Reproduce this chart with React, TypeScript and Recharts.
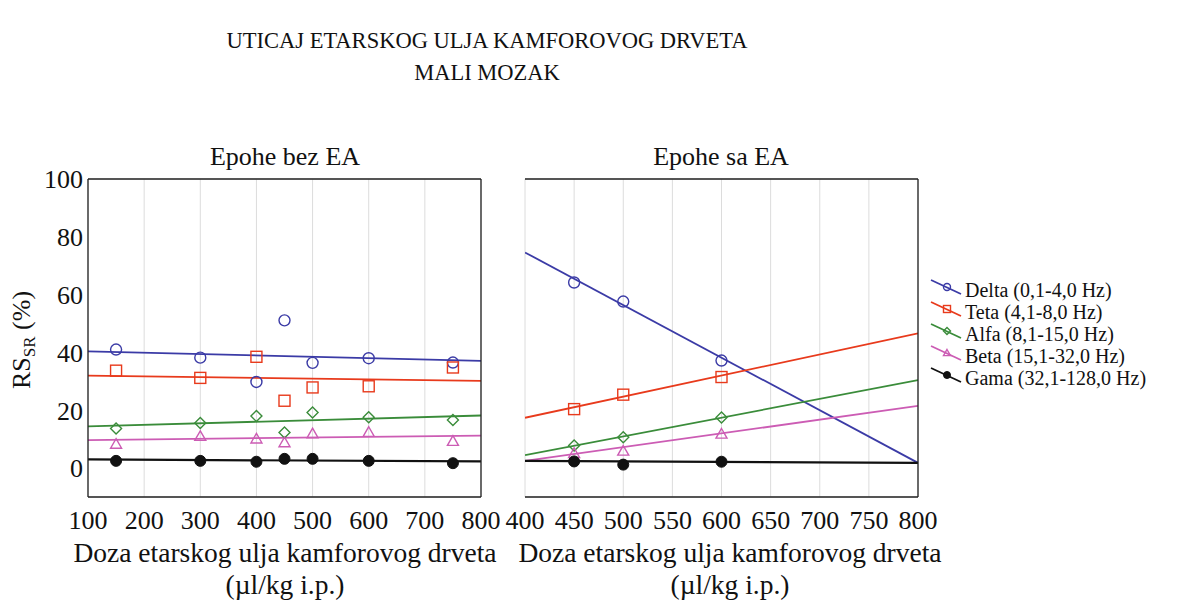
import { ComposedChart, Scatter, Line, XAxis, YAxis, CartesianGrid } from "recharts";

const FONT = "Liberation Serif, Times New Roman, serif";

// band names (legend)
const bandNames = [
  "Delta (0,1-4,0 Hz)",
  "Teta (4,1-8,0 Hz)",
  "Alfa (8,1-15,0 Hz)",
  "Beta (15,1-32,0 Hz)",
  "Gama (32,1-128,0 Hz)",
];
const bandColors = ["#3b3ba6", "#e83a1c", "#3a8c3a", "#cc5cb4", "#111111"];
const bandShapes = ["circle", "square", "diamond", "triangle", "dot"];

// Epohe bez EA
const leftDoses = [150, 300, 400, 450, 500, 600, 750];
const leftDelta = [41.0, 38.2, 29.8, 51.1, 36.4, 38.0, 36.5];
const leftTeta = [33.7, 31.2, 38.5, 23.3, 27.9, 28.3, 34.8];
const leftAlfa = [13.7, 15.6, 18.0, 12.3, 19.2, 17.6, 16.6];
const leftBeta = [8.3, 11.0, 10.1, 8.8, 11.9, 12.4, 9.3];
const leftGama = [2.5, 2.5, 2.2, 3.2, 3.2, 2.5, 1.7];
// fitted lines (value at both ends of the axis)
const leftFitX = [100, 800];
const leftFitDelta = [40.4, 37.1];
const leftFitTeta = [32.0, 30.2];
const leftFitAlfa = [14.4, 18.2];
const leftFitBeta = [9.7, 11.2];
const leftFitGama = [3.0, 2.3];

// Epohe sa EA
const rightDoses = [450, 500, 600];
const rightDelta = [64.2, 57.6, 37.2];
const rightTeta = [20.4, 25.4, 31.5];
const rightAlfa = [7.8, 10.7, 17.5];
const rightBeta = [5.1, 5.9, 11.8];
const rightGama = [2.3, 1.2, 2.2];
const rightFitX = [400, 800];
const rightFitDelta = [74.6, 1.8];
const rightFitTeta = [17.4, 46.6];
const rightFitAlfa = [4.5, 30.4];
const rightFitBeta = [2.5, 21.5];
const rightFitGama = [2.5, 1.8];

// axis ticks
const leftXTicks = [100, 200, 300, 400, 500, 600, 700, 800];
const rightXTicks = [400, 450, 500, 550, 600, 650, 700, 750, 800];
const leftMinorX = [100, 133.3, 166.7, 200, 233.3, 266.7, 300, 333.3, 366.7, 400, 433.3, 466.7, 500, 533.3, 566.7, 600, 633.3, 666.7, 700, 733.3, 766.7, 800];
const rightMinorX = [400, 420, 440, 460, 480, 500, 520, 540, 560, 580, 600, 620, 640, 660, 680, 700, 720, 740, 760, 780, 800];
const yLabelTicks = [0, 20, 40, 60, 80, 100];
const yGridTicks = [-10, 0, 10, 20, 30, 40, 50, 60, 70, 80, 90, 100];
const yMinorTicks = [-10, -5, 0, 5, 10, 15, 20, 25, 30, 35, 40, 45, 50, 55, 60, 65, 70, 75, 80, 85, 90, 95, 100];

const leftValues = [leftDelta, leftTeta, leftAlfa, leftBeta, leftGama];
const leftFits = [leftFitDelta, leftFitTeta, leftFitAlfa, leftFitBeta, leftFitGama];
const rightValues = [rightDelta, rightTeta, rightAlfa, rightBeta, rightGama];
const rightFits = [rightFitDelta, rightFitTeta, rightFitAlfa, rightFitBeta, rightFitGama];

function Marker({ kind, cx, cy, color, r = 5.5 }: any) {
  if (cx == null || cy == null) return null;
  const sw = 1.4;
  switch (kind) {
    case "circle":
      return <circle cx={cx} cy={cy} r={r} fill="none" stroke={color} strokeWidth={sw} />;
    case "square":
      return <rect x={cx - r} y={cy - r} width={2 * r} height={2 * r} fill="none" stroke={color} strokeWidth={sw} />;
    case "diamond":
      return (
        <polygon
          points={`${cx},${cy - r} ${cx + r},${cy} ${cx},${cy + r} ${cx - r},${cy}`}
          fill="none"
          stroke={color}
          strokeWidth={sw}
        />
      );
    case "triangle":
      return (
        <polygon
          points={`${cx},${cy - r} ${cx + r},${cy + r * 0.75} ${cx - r},${cy + r * 0.75}`}
          fill="none"
          stroke={color}
          strokeWidth={sw}
        />
      );
    default:
      return <circle cx={cx} cy={cy} r={r} fill={color} stroke={color} />;
  }
}

const tickFont = { fill: "#111", fontSize: 26, fontFamily: FONT, style: { fontFamily: FONT } };
const frame = { stroke: "#222", strokeWidth: 1.3 };

function Panel({ left, doses, values, fitX, fits, xTicks, minorX, showYLabels, margin }: any) {
  const domainX = [xTicks[0], xTicks[xTicks.length - 1]];
  return (
    <div style={{ position: "absolute", left, top: 140, fontFamily: FONT }}>
      <ComposedChart width={500} height={420} margin={margin} style={{ fontFamily: FONT }}>
        <CartesianGrid xAxisId="b" yAxisId="r" stroke="#dcdcdc" strokeWidth={1} />
        <XAxis
          xAxisId="b"
          dataKey="x"
          type="number"
          domain={domainX}
          ticks={xTicks}
          interval={0}
          allowDataOverflow
          height={40}
          tickLine={false}
          tickSize={0}
          tickMargin={14}
          axisLine={frame}
          tick={tickFont}
        />
        <XAxis
          xAxisId="bm"
          dataKey="x"
          type="number"
          orientation="bottom"
          mirror
          domain={domainX}
          ticks={minorX}
          interval={0}
          allowDataOverflow
          tick={false}
          axisLine={false}
          tickSize={4}
          tickLine={{ stroke: "#333" }}
        />
        <XAxis
          xAxisId="t"
          dataKey="x"
          type="number"
          orientation="top"
          mirror
          domain={domainX}
          ticks={minorX}
          interval={0}
          allowDataOverflow
          tick={false}
          axisLine={frame}
          tickSize={4}
          tickLine={{ stroke: "#333" }}
        />
        <YAxis
          yAxisId="l"
          dataKey="y"
          type="number"
          domain={[-10, 100]}
          ticks={yLabelTicks}
          interval={0}
          allowDataOverflow
          width={showYLabels ? 60 : 0}
          tickLine={false}
          tickSize={0}
          tickMargin={5}
          axisLine={frame}
          tick={showYLabels ? tickFont : false}
        />
        <YAxis
          yAxisId="lm"
          dataKey="y"
          type="number"
          orientation="left"
          mirror
          domain={[-10, 100]}
          ticks={yMinorTicks}
          interval={0}
          allowDataOverflow
          tick={false}
          axisLine={false}
          tickSize={4}
          tickLine={{ stroke: "#333" }}
        />
        <YAxis
          yAxisId="r"
          dataKey="y"
          type="number"
          orientation="right"
          mirror
          domain={[-10, 100]}
          ticks={yGridTicks}
          interval={0}
          allowDataOverflow
          tick={false}
          axisLine={frame}
          tickSize={4}
          tickLine={{ stroke: "#333" }}
        />
        {values.map((vals: number[], i: number) => (
          <Line
            key={"fit" + i}
            xAxisId="b"
            yAxisId="l"
            data={fitX.map((x: number, k: number) => ({ x, y: fits[i][k] }))}
            dataKey="y"
            type="linear"
            stroke={bandColors[i]}
            strokeWidth={i === 4 ? 2.2 : 1.8}
            dot={false}
            activeDot={false}
            isAnimationActive={false}
          />
        ))}
        {values.map((vals: number[], i: number) => (
          <Scatter
            key={"pts" + i}
            xAxisId="b"
            yAxisId="l"
            data={doses.map((x: number, k: number) => ({ x, y: vals[k] }))}
            dataKey="y"
            isAnimationActive={false}
            shape={(p: any) => <Marker kind={bandShapes[i]} cx={p.cx} cy={p.cy} color={bandColors[i]} />}
          />
        ))}
      </ComposedChart>
    </div>
  );
}

function LegendIcon({ y, i }: any) {
  const c = bandColors[i];
  return (
    <g>
      <line x1={931} y1={y - 10} x2={961} y2={y + 4} stroke={c} strokeWidth={1.8} />
      <Marker kind={bandShapes[i]} cx={947} cy={y - 3} color={c} r={3.5} />
    </g>
  );
}

export default function App() {
  const legendY = [290, 312, 334, 356, 378];
  return (
    <div style={{ position: "absolute", left: 0, top: 0, width: 1177, height: 611, background: "#fff", overflow: "hidden", fontFamily: FONT }}>
      <Panel
        left={0}
        doses={leftDoses}
        values={leftValues}
        fitX={leftFitX}
        fits={leftFits}
        xTicks={leftXTicks}
        minorX={leftMinorX}
        showYLabels
        margin={{ top: 39, right: 19, bottom: 23, left: 28 }}
      />
      <Panel
        left={440}
        doses={rightDoses}
        values={rightValues}
        fitX={rightFitX}
        fits={rightFits}
        xTicks={rightXTicks}
        minorX={rightMinorX}
        showYLabels={false}
        margin={{ top: 39, right: 22, bottom: 23, left: 85 }}
      />
      <svg width={1177} height={611} style={{ position: "absolute", left: 0, top: 0, pointerEvents: "none", fontFamily: FONT }}>
        <text x={487} y={48} textAnchor="middle" fontSize={22.5} fill="#111">
          UTICAJ ETARSKOG ULJA KAMFOROVOG DRVETA
        </text>
        <text x={487} y={80} textAnchor="middle" fontSize={22.5} fill="#111">
          MALI MOZAK
        </text>
        <text x={285} y={165} textAnchor="middle" fontSize={26} fill="#111">
          Epohe bez EA
        </text>
        <text x={721} y={165} textAnchor="middle" fontSize={26} fill="#111">
          Epohe sa EA
        </text>
        <text transform="translate(30,340) rotate(-90)" textAnchor="middle" fontSize={26} fill="#111">
          RS
          <tspan fontSize={17} dy={5}>SR</tspan>
          <tspan dy={-5}> (%)</tspan>
        </text>
        <text x={285} y={562} textAnchor="middle" fontSize={27.5} fill="#111">
          Doza etarskog ulja kamforovog drveta
        </text>
        <text x={285} y={594} textAnchor="middle" fontSize={27.5} fill="#111">
          (µl/kg i.p.)
        </text>
        <text x={730} y={562} textAnchor="middle" fontSize={27.5} fill="#111">
          Doza etarskog ulja kamforovog drveta
        </text>
        <text x={730} y={594} textAnchor="middle" fontSize={27.5} fill="#111">
          (µl/kg i.p.)
        </text>
        {bandNames.map((n, i) => (
          <g key={n}>
            <LegendIcon y={legendY[i]} i={i} />
            <text x={965} y={legendY[i] + 7} fontSize={20} fill="#111">
              {n}
            </text>
          </g>
        ))}
      </svg>
    </div>
  );
}
